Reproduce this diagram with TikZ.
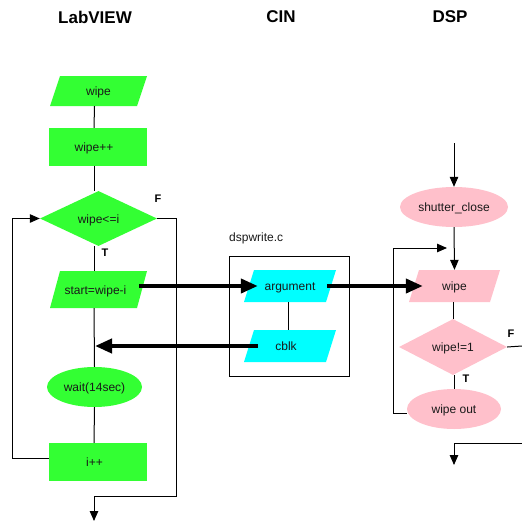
\documentclass[tikz,border=0pt]{standalone}
\usepackage{fontspec}
\setmainfont{Liberation Sans}
\usetikzlibrary{shapes.geometric,arrows.meta}
\definecolor{lvgreen}{RGB}{51,255,51}
\definecolor{cinblue}{RGB}{0,255,255}
\definecolor{dsppink}{RGB}{255,192,203}
\tikzset{
  lbl/.style={font=\fontsize{12}{14}\selectfont, inner sep=0pt, text=black!90, text height=9pt, text depth=0pt},
  hd/.style={font=\bfseries\fontsize{17}{19}\selectfont, inner sep=0pt},
  tf/.style={font=\bfseries\fontsize{11}{13}\selectfont, inner sep=0pt},
  para/.style={lbl, path picture={\fill[#1]
      (path picture bounding box.south west) --
      ([xshift=-10pt]path picture bounding box.south east) --
      (path picture bounding box.north east) --
      ([xshift=10pt]path picture bounding box.north west) -- cycle;}},
  boxnode/.style={lbl, rectangle, fill=#1},
  dia/.style={lbl, diamond, fill=#1, aspect=2},
  ell/.style={lbl, ellipse, fill=#1},
  thinl/.style={draw=black, line width=1pt},
  thinarr/.style={thinl, -{Triangle[length=10pt,width=8.5pt]}},
  thickarr/.style={draw=black, line width=4pt, -{Triangle[length=17pt,width=14pt]}},
}
\begin{document}
\begin{tikzpicture}[x=1pt,y=-1pt]
\useasboundingbox[fill=white] (0,0) rectangle (522,522);

% headings
\node[hd] (hlv) at (95,17) {LabVIEW};
\node[hd] (hcin) at (281,17) {CIN};
\node[hd] (hdsp) at (450,17) {DSP};

% LabVIEW column
\node[para=lvgreen, minimum width=97pt, minimum height=30pt] (w1) at (98.5,91) {wipe};
\node[boxnode=lvgreen, minimum width=98pt, minimum height=38pt] (wpp) at (98,147) {\hspace*{-8pt}wipe++};
\node[dia=lvgreen, minimum width=117pt, minimum height=55pt] (d1) at (98.5,218.5) {wipe<=i};
\node[para=lvgreen, minimum width=97pt, minimum height=37pt] (st) at (98.5,289.5) {\hspace*{-6pt}start=wipe-i};
\node[ell=lvgreen, minimum width=95pt, minimum height=40pt] (wt) at (94.5,387) {wait(14sec)};
\node[boxnode=lvgreen, minimum width=98pt, minimum height=38pt] (ipp) at (98,462) {\hspace*{-7pt}i++};
\node[tf] (f1) at (158,199) {F};
\node[tf] (t1) at (105,253) {T};

\coordinate (lx1) at (12,458);
\coordinate (lx2) at (12,218.5);
\coordinate (rx1) at (176,218.5);
\coordinate (rx2) at (176,496);
\coordinate (rx3) at (94,496);
\coordinate (rx4) at (94,521);
\coordinate (ret) at (95,346);

\draw[thinl] ([xshift=-4pt]w1.south) -- ([xshift=-4pt]wpp.north);
\draw[thinl] ([xshift=-4pt]wpp.south) -- ([xshift=-4.5pt]d1.north);
\draw[thinl] ([xshift=-4.5pt]d1.south) -- ([xshift=-4.5pt]st.north);
\draw[thinl] ([xshift=-4.5pt]st.south) -- (wt.north);
\draw[thinl] (wt.south) -- ([xshift=-4pt]ipp.north);
\draw[thinarr] ([yshift=4pt]ipp.west) -- (lx1) -- (lx2) -- (d1.west);
\draw[thinarr] (d1.east) -- (rx1) -- (rx2) -- (rx3) -- (rx4);

% CIN column
\node[draw=black, line width=1pt, minimum width=120pt, minimum height=120pt, inner sep=0pt] (cin) at (289,316) {};
\node[lbl, anchor=west] (dspw) at (229,237) {dspwrite.c};
\node[para=cinblue, minimum width=92pt, minimum height=32pt] (arg) at (290,286) {argument};
\node[para=cinblue, minimum width=92pt, minimum height=32pt] (cb) at (290,346) {\hspace*{-8pt}cblk};
\draw[thinl] ([xshift=-2pt]arg.south) -- ([xshift=-2pt]cb.north);

% DSP column
\coordinate (top) at (454,143);
\node[ell=dsppink, minimum width=108pt, minimum height=40pt] (sc) at (454,207) {shutter\_close};
\node[para=dsppink, minimum width=91pt, minimum height=32pt] (w2) at (454.5,286) {wipe};
\node[dia=dsppink, minimum width=108pt, minimum height=56pt] (d2) at (453,347) {wipe!=1};
\node[ell=dsppink, minimum width=94pt, minimum height=40pt] (wo) at (454,409) {wipe out};
\node[tf] (f2) at (511,334) {F};
\node[tf] (t2) at (466,379) {T};

\coordinate (dr) at (522,346);
\coordinate (lp1) at (393,413);
\coordinate (lp2) at (393,248);
\coordinate (lp3) at (447,248);
\coordinate (bt1) at (522,443);
\coordinate (bt2) at (454,443);
\coordinate (bt3) at (454,465);

\draw[thinarr] (top) -- (sc.north);
\draw[thinarr] (sc.south) -- (w2.north);
\draw[thinl] (w2.south -| d2.north) -- (d2.north);
\draw[thinl] (d2.south -| wo.north) -- (wo.north);
\draw[thinl] (d2.east) -- (dr);
\draw[thinarr] ([yshift=-4pt]wo.west) -- (lp1) -- (lp2) -- (lp3);
\draw[thinarr] (bt1) -- (bt2) -- (bt3);

% data flow arrows
\draw[thickarr] ([xshift=-8pt]st.east |- arg.west) -- ([xshift=14pt]arg.west);
\draw[thickarr] ([xshift=-9pt]arg.east) -- ([xshift=14pt]w2.west);
\draw[thickarr] ([xshift=14pt]cb.west) -- (ret);
\end{tikzpicture}
\end{document}
